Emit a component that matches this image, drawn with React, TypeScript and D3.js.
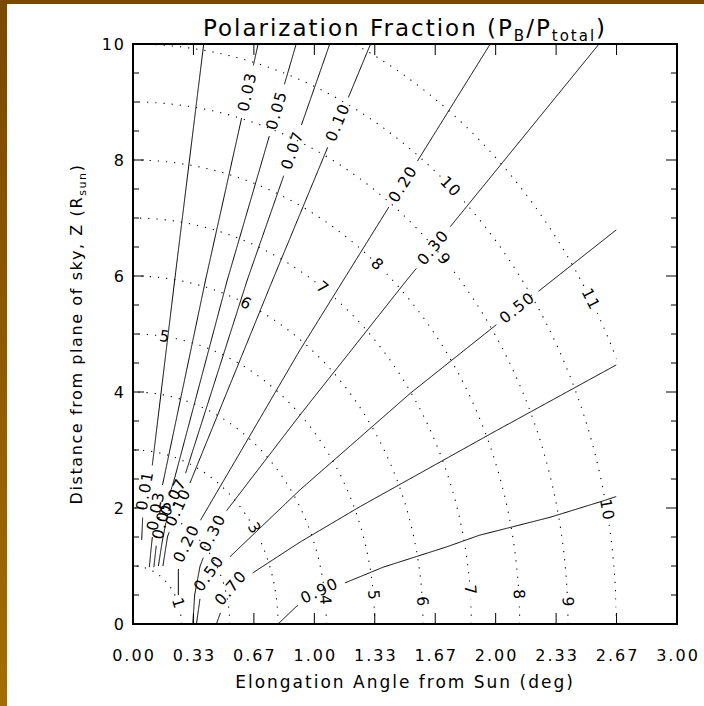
import React from "react";
import * as d3 from "d3";

type Pt = [number, number];

const W = 704;
const H = 706;

// axis ticks
const xTickValues = [0, 1 / 3, 2 / 3, 1, 4 / 3, 5 / 3, 2, 7 / 3, 8 / 3, 3];
const xTickLabels = ["0.00", "0.33", "0.67", "1.00", "1.33", "1.67", "2.00", "2.33", "2.67", "3.00"];
const yMajorTicks = [0, 2, 4, 6, 8, 10];
const yMinorTicks = [0.5, 1, 1.5, 2.5, 3, 3.5, 4.5, 5, 5.5, 6.5, 7, 7.5, 8.5, 9, 9.5];

// geometry of the grid: plane-of-sky distance in R_sun per degree of elongation
const RSUN_PER_DEG = 3.752;
const RHO_MAX = 10; // R_sun, edge of the computed grid
const Z_MAX = 10;

// dotted arcs of constant heliocentric distance (R_sun)
const arcRadii = [1, 2, 3, 4, 5, 6, 7, 8, 9, 10, 11];
// arc labels: [x (deg), z (R_sun), text]
const arcLabels: [number, number, string][] = [
  [0.26, 0.36, "1"],
  [0.68, 1.67, "3"],
  [1.06, 0.41, "4"],
  [0.18, 4.98, "5"],
  [1.34, 0.5, "5"],
  [0.63, 5.55, "6"],
  [1.61, 0.38, "6"],
  [1.07, 5.88, "7"],
  [1.89, 0.59, "7"],
  [1.37, 6.27, "8"],
  [2.15, 0.5, "8"],
  [1.76, 6.4, "9"],
  [2.39, 0.38, "9"],
  [1.79, 7.65, "10"],
  [2.63, 1.97, "10"],
  [2.59, 5.7, "11"],
];

// polarization-fraction contours, points [x (deg), z (R_sun)]
const contourLevels = ["0.01", "0.03", "0.05", "0.07", "0.10", "0.20", "0.30", "0.50", "0.70", "0.90"];
const c001: Pt[] = [[0.048, 1.45], [0.055, 1.95], [0.066, 2.3], [0.09, 2.6], [0.105, 2.7], [0.23, 5.93], [0.39, 10]];
const c003: Pt[] = [[0.09, 0.98], [0.1, 1.3], [0.115, 1.75], [0.135, 2.1], [0.165, 2.43], [0.4, 5.93], [0.69, 10]];
const c005: Pt[] = [[0.115, 0.98], [0.13, 1.4], [0.17, 1.9], [0.23, 2.52], [0.52, 5.93], [0.9, 10]];
const c007: Pt[] = [[0.14, 1.0], [0.16, 1.4], [0.2, 2.05], [0.29, 2.6], [0.63, 5.93], [1.085, 10]];
const c010: Pt[] = [[0.165, 1.0], [0.19, 1.5], [0.24, 1.95], [0.31, 2.4], [0.77, 5.93], [1.31, 10]];
const c020: Pt[] = [[0.25, 0.5], [0.25, 0.93], [0.27, 1.2], [0.3, 1.42], [0.35, 1.67], [0.92, 4.72], [1.97, 10]];
const c030: Pt[] = [[0.33, 0], [0.34, 0.5], [0.37, 1.0], [0.44, 1.57], [0.52, 1.97], [0.92, 3.6], [1.51, 5.93], [2.57, 10]];
const c050: Pt[] = [[0.35, 0], [0.37, 0.45], [0.42, 0.87], [0.535, 1.16], [0.92, 2.31], [1.53, 3.98], [2.12, 5.45], [2.667, 6.8]];
const c070: Pt[] = [[0.46, 0], [0.5, 0.35], [0.54, 0.62], [0.66, 0.88], [0.92, 1.41], [1.25, 2.02], [1.99, 3.31], [2.667, 4.47]];
const c090: Pt[] = [[0.8, 0], [0.9, 0.3], [1.03, 0.57], [1.17, 0.71], [1.38, 0.98], [1.73, 1.33], [1.91, 1.53], [2.3, 1.84], [2.59, 2.12], [2.667, 2.2]];
const contourPaths: Pt[][] = [c001, c003, c005, c007, c010, c020, c030, c050, c070, c090];
const contourLabelAt: Pt[][] = [
  [[0.066, 2.3]],
  [[0.12, 1.95], [0.63, 9.17]],
  [[0.165, 1.8], [0.8, 8.86]],
  [[0.215, 2.2], [0.88, 8.17]],
  [[0.255, 2.0], [1.12, 8.66]],
  [[0.29, 1.4], [1.48, 7.6]],
  [[0.44, 1.57], [1.65, 6.5]],
  [[0.42, 0.87], [2.12, 5.45]],
  [[0.54, 0.62]],
  [[1.03, 0.57]],
];

const FONT = "'DejaVu Sans', sans-serif";

const x = d3.scaleLinear().domain([0, 3]).range([133, 677]);
const y = d3.scaleLinear().domain([0, 10]).range([624, 44]);

function resample(pts: Pt[], step = 1): Pt[] {
  const out: Pt[] = [];
  for (let i = 0; i < pts.length - 1; i++) {
    const [ax, ay] = pts[i];
    const [bx, by] = pts[i + 1];
    const len = Math.hypot(bx - ax, by - ay);
    const n = Math.max(1, Math.ceil(len / step));
    for (let k = 0; k < n; k++) {
      const t = k / n;
      out.push([ax + (bx - ax) * t, ay + (by - ay) * t]);
    }
  }
  out.push(pts[pts.length - 1]);
  return out;
}

function nearestIndex(pix: Pt[], c: Pt): number {
  let best = 0;
  let bd = Infinity;
  pix.forEach((p, i) => {
    const d = Math.hypot(p[0] - c[0], p[1] - c[1]);
    if (d < bd) {
      bd = d;
      best = i;
    }
  });
  return best;
}

function splitByGaps(pix: Pt[], centers: Pt[], radii: number[]): Pt[][] {
  const segs: Pt[][] = [];
  let cur: Pt[] = [];
  for (const p of pix) {
    const inGap = centers.some((c, i) => Math.hypot(p[0] - c[0], p[1] - c[1]) < radii[i]);
    if (inGap) {
      if (cur.length > 1) segs.push(cur);
      cur = [];
    } else cur.push(p);
  }
  if (cur.length > 1) segs.push(cur);
  return segs;
}

const line = d3.line<Pt>().x((d) => d[0]).y((d) => d[1]);

const LABEL_SIZE = 15.5;
const labelHalf = (t: string) => t.length * 5.8 + 3;

export default function App() {
  React.useEffect(() => {
    document.body.style.margin = "0";
  }, []);

  // contours
  const contourEls: React.ReactNode[] = [];
  const contourText: React.ReactNode[] = [];
  contourPaths.forEach((pts, ci) => {
    const pix = resample(pts.map((p) => [x(p[0]), y(p[1])] as Pt), 1);
    const txt = contourLevels[ci];
    const centers: Pt[] = [];
    const radii: number[] = [];
    contourLabelAt[ci].forEach((lp, li) => {
      const idx = nearestIndex(pix, [x(lp[0]), y(lp[1])]);
      const c = pix[idx];
      const a = pix[Math.max(0, idx - 6)];
      const b = pix[Math.min(pix.length - 1, idx + 6)];
      let ang = (Math.atan2(b[1] - a[1], b[0] - a[0]) * 180) / Math.PI;
      if (ang > 90) ang -= 180;
      if (ang < -90) ang += 180;
      centers.push(c);
      radii.push(labelHalf(txt));
      contourText.push(
        <text
          key={`cl${ci}-${li}`}
          x={c[0]}
          y={c[1]}
          transform={`rotate(${ang} ${c[0]} ${c[1]})`}
          textAnchor="middle"
          dominantBaseline="central"
          fontSize={LABEL_SIZE}
          letterSpacing={1.4}
          fontFamily={FONT}
          fill="#000"
        >
          {txt}
        </text>
      );
    });
    splitByGaps(pix, centers, radii).forEach((seg, si) => {
      contourEls.push(
        <path key={`c${ci}-${si}`} d={line(seg) || ""} fill="none" stroke="#000" strokeWidth={1} />
      );
    });
  });

  // dotted arcs
  const arcEls: React.ReactNode[] = [];
  const arcText: React.ReactNode[] = [];
  arcRadii.forEach((r, ri) => {
    const pts: Pt[] = d3.range(0, 90.01, 0.5).map((deg) => {
      const t = (deg * Math.PI) / 180;
      return [(r * Math.cos(t)) / RSUN_PER_DEG, r * Math.sin(t)] as Pt;
    });
    const pix = resample(pts.map((p) => [x(p[0]), y(p[1])] as Pt), 1);
    const labs = arcLabels.filter((l) => l[2] === String(r));
    const centers: Pt[] = [];
    const radii: number[] = [];
    labs.forEach((l, li) => {
      const idx = nearestIndex(pix, [x(l[0]), y(l[1])]);
      const c = pix[idx];
      const a = pix[Math.min(pix.length - 1, idx + 6)];
      const b = pix[Math.max(0, idx - 6)];
      const ang = (Math.atan2(b[1] - a[1], b[0] - a[0]) * 180) / Math.PI;
      centers.push(c);
      radii.push(labelHalf(l[2]));
      arcText.push(
        <text
          key={`al${ri}-${li}`}
          x={c[0]}
          y={c[1]}
          transform={`rotate(${ang} ${c[0]} ${c[1]})`}
          textAnchor="middle"
          dominantBaseline="central"
          fontSize={LABEL_SIZE}
          letterSpacing={1.4}
          fontFamily={FONT}
          fill="#000"
        >
          {l[2]}
        </text>
      );
    });
    splitByGaps(pix, centers, radii).forEach((seg, si) => {
      arcEls.push(
        <path
          key={`a${ri}-${si}`}
          d={line(seg) || ""}
          fill="none"
          stroke="#000"
          strokeWidth={1.1}
          strokeDasharray="1.2 7"
        />
      );
    });
  });

  const x0 = x(0), x1 = x(3), yb = y(0), yt = y(10);

  return (
    <svg width={W} height={H} style={{ display: "block", position: "absolute", left: 0, top: 0 }}>
      <defs>
        <linearGradient id="lbar" x1="0" y1="0" x2="0" y2="1">
          <stop offset="0" stopColor="#7a4800" />
          <stop offset="1" stopColor="#a36d00" />
        </linearGradient>
        <clipPath id="grid">
          <rect x={x(0)} y={y(Z_MAX)} width={x(RHO_MAX / RSUN_PER_DEG) - x(0)} height={y(0) - y(Z_MAX)} />
        </clipPath>
      </defs>
      <rect x={0} y={0} width={W} height={H} fill="#fff" />
      <rect x={0} y={0} width={W} height={4} fill="#7a4800" />
      <rect x={0} y={0} width={7} height={H} fill="url(#lbar)" />

      <g clipPath="url(#grid)">{arcEls}</g>
      <g clipPath="url(#grid)">{contourEls}</g>
      {arcText}
      {contourText}

      {/* frame */}
      <rect x={x0} y={yt} width={x1 - x0} height={yb - yt} fill="none" stroke="#000" strokeWidth={2} />

      {/* x ticks */}
      {xTickValues.map((v, i) => (
        <g key={`xt${i}`}>
          <line x1={x(v)} x2={x(v)} y1={yb} y2={yb - 11} stroke="#000" strokeWidth={1} />
          <line x1={x(v)} x2={x(v)} y1={yt} y2={yt + 11} stroke="#000" strokeWidth={1} />
          <text x={x(v) + 1} y={661} textAnchor="middle" fontSize={16} letterSpacing={2} fontFamily={FONT} fill="#000">
            {xTickLabels[i]}
          </text>
        </g>
      ))}
      {/* y ticks */}
      {yMajorTicks.map((v) => (
        <g key={`ym${v}`}>
          <line x1={x0} x2={x0 + 11} y1={y(v)} y2={y(v)} stroke="#000" strokeWidth={1} />
          <line x1={x1} x2={x1 - 11} y1={y(v)} y2={y(v)} stroke="#000" strokeWidth={1} />
          <text x={126} y={y(v)} textAnchor="end" dominantBaseline="central" fontSize={16} letterSpacing={2} fontFamily={FONT} fill="#000">
            {v}
          </text>
        </g>
      ))}
      {yMinorTicks.map((v) => (
        <g key={`yn${v}`}>
          <line x1={x0} x2={x0 + 6} y1={y(v)} y2={y(v)} stroke="#000" strokeWidth={1} />
          <line x1={x1} x2={x1 - 6} y1={y(v)} y2={y(v)} stroke="#000" strokeWidth={1} />
        </g>
      ))}

      {/* titles */}
      <text x={(x0 + x1) / 2} y={36} textAnchor="middle" fontSize={23} letterSpacing={2} fontFamily={FONT} fill="#000">
        Polarization Fraction (P
        <tspan fontSize={15} dy={5}>B</tspan>
        <tspan dy={-5}>/P</tspan>
        <tspan fontSize={15} dy={5}>total</tspan>
        <tspan dy={-5}>)</tspan>
      </text>
      <text x={(x0 + x1) / 2} y={688} textAnchor="middle" fontSize={17} letterSpacing={2} fontFamily={FONT} fill="#000">
        Elongation Angle from Sun (deg)
      </text>
      <text
        transform={`translate(82 ${(yb + yt) / 2}) rotate(-90)`}
        textAnchor="middle"
        fontSize={16}
        letterSpacing={1.6}
        fontFamily={FONT}
        fill="#000"
      >
        Distance from plane of sky, Z (R
        <tspan fontSize={11} dy={4}>sun</tspan>
        <tspan dy={-4}>)</tspan>
      </text>
    </svg>
  );
}
